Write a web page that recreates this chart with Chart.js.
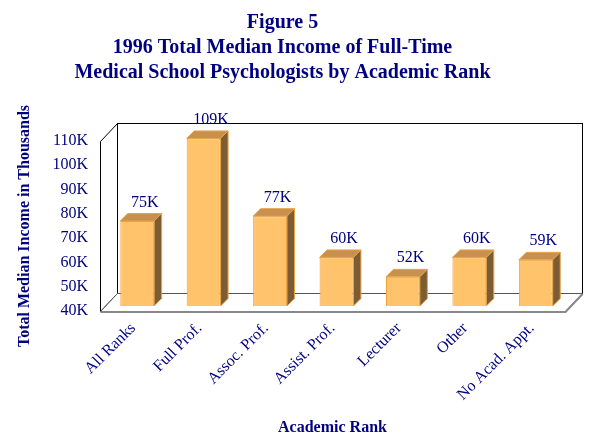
<!DOCTYPE html>
<html>
<head>
<meta charset="utf-8">
<script src="https://cdn.jsdelivr.net/npm/chart.js@4"></script>
<style>
  html, body { margin: 0; padding: 0; background: #fff; }
  #wrap { width: 598px; height: 447px; }
</style>
</head>
<body>
<div id="wrap"><canvas id="chart-rank" width="598" height="447"></canvas></div>
<script>
// data
const categories = ['All Ranks', 'Full Prof.', 'Assoc. Prof.', 'Assist. Prof.', 'Lecturer', 'Other', 'No Acad. Appt.'];
const medianIncome = [75, 109, 77, 60, 52, 60, 59]; // thousands of dollars
const yMin = 40;
const yMax = 110;
const yStep = 10;

const navy = '#000080';
const serif = "'Liberation Serif', 'Times New Roman', serif";

// depth of the box and of the bars
const boxDepth = { x: 17, y: -18 };
const barShift = { x: 4, y: -5 };
const barDepth = 7.5;

var box3d = {
  id: 'box3d',
  beforeDatasetsDraw: function(chart) {
    var ctx = chart.ctx;
    var a = chart.chartArea;
    var L = Math.round(a.left) + 0.5, R = Math.round(a.right) + 0.5;
    var T = Math.round(a.top) + 0.5, B = Math.round(a.bottom) + 0.5;
    var dx = boxDepth.x, dy = boxDepth.y;
    ctx.save();
    ctx.lineWidth = 1;
    ctx.fillStyle = '#ffffff';
    ctx.strokeStyle = '#000000';
    // back wall
    ctx.fillRect(L + dx, T + dy, R - L, B - T);
    ctx.strokeRect(L + dx, T + dy, R - L, B - T);
    // left wall
    ctx.beginPath();
    ctx.moveTo(L, T); ctx.lineTo(L + dx, T + dy); ctx.lineTo(L + dx, B + dy); ctx.lineTo(L, B);
    ctx.closePath();
    ctx.fill(); ctx.stroke();
    // floor
    ctx.beginPath();
    ctx.moveTo(L, B); ctx.lineTo(L + dx, B + dy); ctx.lineTo(R + dx, B + dy); ctx.lineTo(R, B);
    ctx.closePath();
    ctx.fill();
    ctx.strokeStyle = '#555555';
    ctx.stroke();
    // front edge of floor (grey, a bit heavier)
    ctx.beginPath();
    ctx.strokeStyle = '#888888';
    ctx.lineWidth = 2;
    ctx.moveTo(L, B + 0.5); ctx.lineTo(R, B + 0.5); ctx.lineTo(R + dx, B + dy + 0.5);
    ctx.stroke();
    ctx.restore();

    // bars sit a little inside the box
    ctx.save();
    ctx.translate(barShift.x, barShift.y);
  },
  afterDatasetsDraw: function(chart) {
    var ctx = chart.ctx;
    var meta = chart.getDatasetMeta(0);
    meta.data.forEach(function(bar, i) {
      var p = bar.getProps(['x', 'y', 'base', 'width'], true);
      var left = p.x - p.width / 2, right = p.x + p.width / 2;
      var top = p.y, bottom = Math.min(p.base, chart.chartArea.bottom);
      // top face
      ctx.beginPath();
      ctx.moveTo(left, top); ctx.lineTo(left + barDepth, top - barDepth);
      ctx.lineTo(right + barDepth, top - barDepth); ctx.lineTo(right, top);
      ctx.closePath();
      ctx.fillStyle = '#C8904E';
      ctx.fill();
      ctx.strokeStyle = '#E7A448';
      ctx.lineWidth = 1;
      ctx.stroke();
      // side face
      ctx.beginPath();
      ctx.moveTo(right, top); ctx.lineTo(right + barDepth, top - barDepth);
      ctx.lineTo(right + barDepth, bottom - barDepth); ctx.lineTo(right, bottom);
      ctx.closePath();
      ctx.fillStyle = '#7D5C33';
      ctx.fill();
      ctx.strokeStyle = '#E7A448';
      ctx.stroke();
      // value label
      ctx.fillStyle = navy;
      ctx.font = '16px ' + serif;
      ctx.textAlign = 'center';
      ctx.textBaseline = 'alphabetic';
      ctx.fillText(medianIncome[i] + 'K', p.x + barDepth, top - barDepth - 7);
    });
    ctx.restore();
  }
};

var ctx = document.getElementById('chart-rank').getContext('2d');
window.rankChart = new Chart(ctx, {
  type: 'bar',
  data: {
    labels: categories,
    datasets: [{
      label: 'Median income',
      data: medianIncome,
      base: yMin,
      backgroundColor: '#FFC36B', // front face
      borderColor: '#F2A13A',
      borderWidth: 1,
      barPercentage: 0.51,
      categoryPercentage: 1
    }]
  },
  options: {
    responsive: false,
    animation: false,
    layout: { padding: { left: 0, right: 33, top: 0, bottom: 0 } },
    scales: {
      x: {
        grid: { display: false, drawTicks: false },
        border: { display: false },
        ticks: {
          color: navy,
          font: { family: serif, size: 16 },
          minRotation: 45,
          maxRotation: 45,
          autoSkip: false,
          padding: 8
        },
        title: {
          display: true,
          text: 'Academic Rank',
          color: navy,
          font: { family: serif, size: 16, weight: 'bold' },
          padding: { top: 0, bottom: 10 }
        },
        afterFit: function(scale) { scale.height = 136; }
      },
      y: {
        min: yMin,
        max: yMax,
        grid: { display: false, drawTicks: false },
        border: { display: false },
        ticks: {
          stepSize: yStep,
          color: navy,
          font: { family: serif, size: 16 },
          padding: 12,
          callback: function(v) { return v + 'K'; }
        },
        title: {
          display: true,
          text: 'Total Median Income in Thousands',
          color: navy,
          font: { family: serif, size: 16, weight: 'bold' },
          padding: { top: 15, bottom: 0 }
        },
        afterFit: function(scale) { scale.width = 100; }
      }
    },
    plugins: {
      legend: { display: false },
      tooltip: { enabled: false },
      title: {
        display: true,
        text: ['Figure 5', '1996 Total Median Income of Full-Time', 'Medical School Psychologists by Academic Rank'],
        color: navy,
        font: { family: serif, size: 20, weight: 'bold', lineHeight: 1.25 },
        padding: { top: 10, bottom: 56 }
      }
    }
  },
  plugins: [box3d]
});
</script>
</body>
</html>
